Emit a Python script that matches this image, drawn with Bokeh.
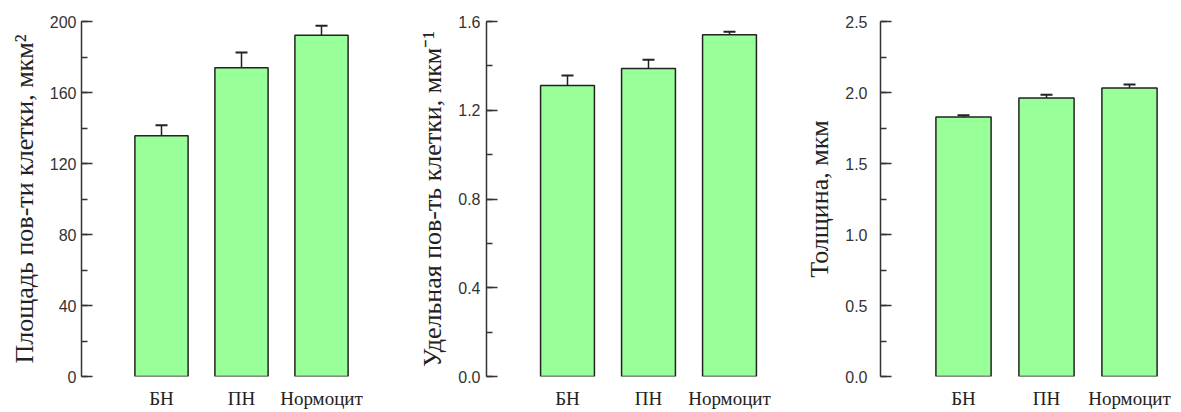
from bokeh.plotting import figure
from bokeh.layouts import row
from bokeh.models import (Range1d, SingleIntervalTicker, FixedTicker, PrintfTickFormatter,
                          Whisker, TeeHead, ColumnDataSource)
from bokeh.embed import file_html
from bokeh.resources import INLINE

# ---- data ----
categories = ["БН", "ПН", "Нормоцит"]
positions = [1, 2, 3]

area_mean = [135.6, 173.9, 192.2]
area_err = [6.0, 8.6, 5.4]

specific_mean = [1.312, 1.388, 1.540]
specific_err = [0.045, 0.040, 0.014]

thick_mean = [1.828, 1.961, 2.031]
thick_err = [0.011, 0.023, 0.025]

labels = ["Площадь пов-ти клетки, мкм²",
          "Удельная пов-ть клетки, мкм⁻¹",
          "Толщина, мкм"]
y_max = [200, 1.6, 2.5]
y_interval = [40, 0.4, 0.5]
y_fmt = ["%d", "%.1f", "%.1f"]

# ---- layout parameters (pixels) ----
fig_w = [400, 390, 391]
frame_left = [81, 86, 90]
frame_w = [288, 290, 298]
px_per_unit = [80, 81, 83]
frame_top = [21, 21, 19]
frame_bottom = [378, 378, 376]
label_standoff = [5, 6, 13]

FILL = "#99ff99"
DARK = "#222222"


def make_panel(i, means, errs):
    H = 412
    p = figure(width=fig_w[i], height=H, output_backend="svg", toolbar_location=None,
               x_range=Range1d(0, frame_w[i] / px_per_unit[i]),
               y_range=Range1d(0, y_max[i]),
               min_border_left=frame_left[i],
               min_border_right=fig_w[i] - frame_left[i] - frame_w[i],
               min_border_top=frame_top[i],
               min_border_bottom=H - frame_bottom[i])
    p.outline_line_color = None
    p.xgrid.grid_line_color = None
    p.ygrid.grid_line_color = None
    p.background_fill_color = "white"
    p.border_fill_color = "white"

    tops = [m + e for m, e in zip(means, errs)]
    src = ColumnDataSource(dict(x=positions, top=means, upper=tops))
    p.vbar(x="x", top="top", bottom=0, width=0.665, source=src,
           fill_color=FILL, line_color=DARK, line_width=1.5)
    w = Whisker(base="x", lower="top", upper="upper", source=src,
                line_color=DARK, line_width=1.5,
                upper_head=TeeHead(size=12, line_color=DARK, line_width=2),
                lower_head=None)
    p.add_layout(w)

    # y axis
    ya = p.yaxis[0]
    ya.ticker = SingleIntervalTicker(interval=y_interval[i], num_minor_ticks=2)
    ya.formatter = PrintfTickFormatter(format=y_fmt[i])
    ya.axis_line_color = "#333333"
    ya.axis_line_width = 1.5
    ya.major_tick_line_color = "#333333"
    ya.major_tick_line_width = 1.5
    ya.minor_tick_line_color = "#333333"
    ya.minor_tick_line_width = 1.5
    ya.major_tick_in = 11
    ya.major_tick_out = 0
    ya.minor_tick_in = 6
    ya.minor_tick_out = 0
    ya.major_label_standoff = label_standoff[i]
    ya.major_label_text_font = "Liberation Sans"
    ya.major_label_text_font_size = "16px"
    ya.major_label_text_color = "#333333"
    ya.axis_label = labels[i]
    ya.axis_label_text_font = "Liberation Serif"
    ya.axis_label_text_font_style = "normal"
    ya.axis_label_text_font_size = "26px"
    ya.axis_label_text_color = "#222222"
    ya.axis_label_standoff = 8

    # x axis (category labels only)
    xa = p.xaxis[0]
    xa.ticker = FixedTicker(ticks=positions)
    xa.major_label_overrides = {pos: cat for pos, cat in zip(positions, categories)}
    xa.axis_line_color = None
    xa.major_tick_line_color = None
    xa.minor_tick_line_color = None
    xa.major_tick_in = 0
    xa.major_tick_out = 0
    xa.major_label_standoff = 11
    xa.major_label_text_font = "Liberation Serif"
    xa.major_label_text_font_size = "19px"
    xa.major_label_text_color = "#222222"
    return p


p1 = make_panel(0, area_mean, area_err)
p2 = make_panel(1, specific_mean, specific_err)
p3 = make_panel(2, thick_mean, thick_err)

layout = row(p1, p2, p3, spacing=0)
open("out.html", "w").write(file_html(layout, INLINE))
